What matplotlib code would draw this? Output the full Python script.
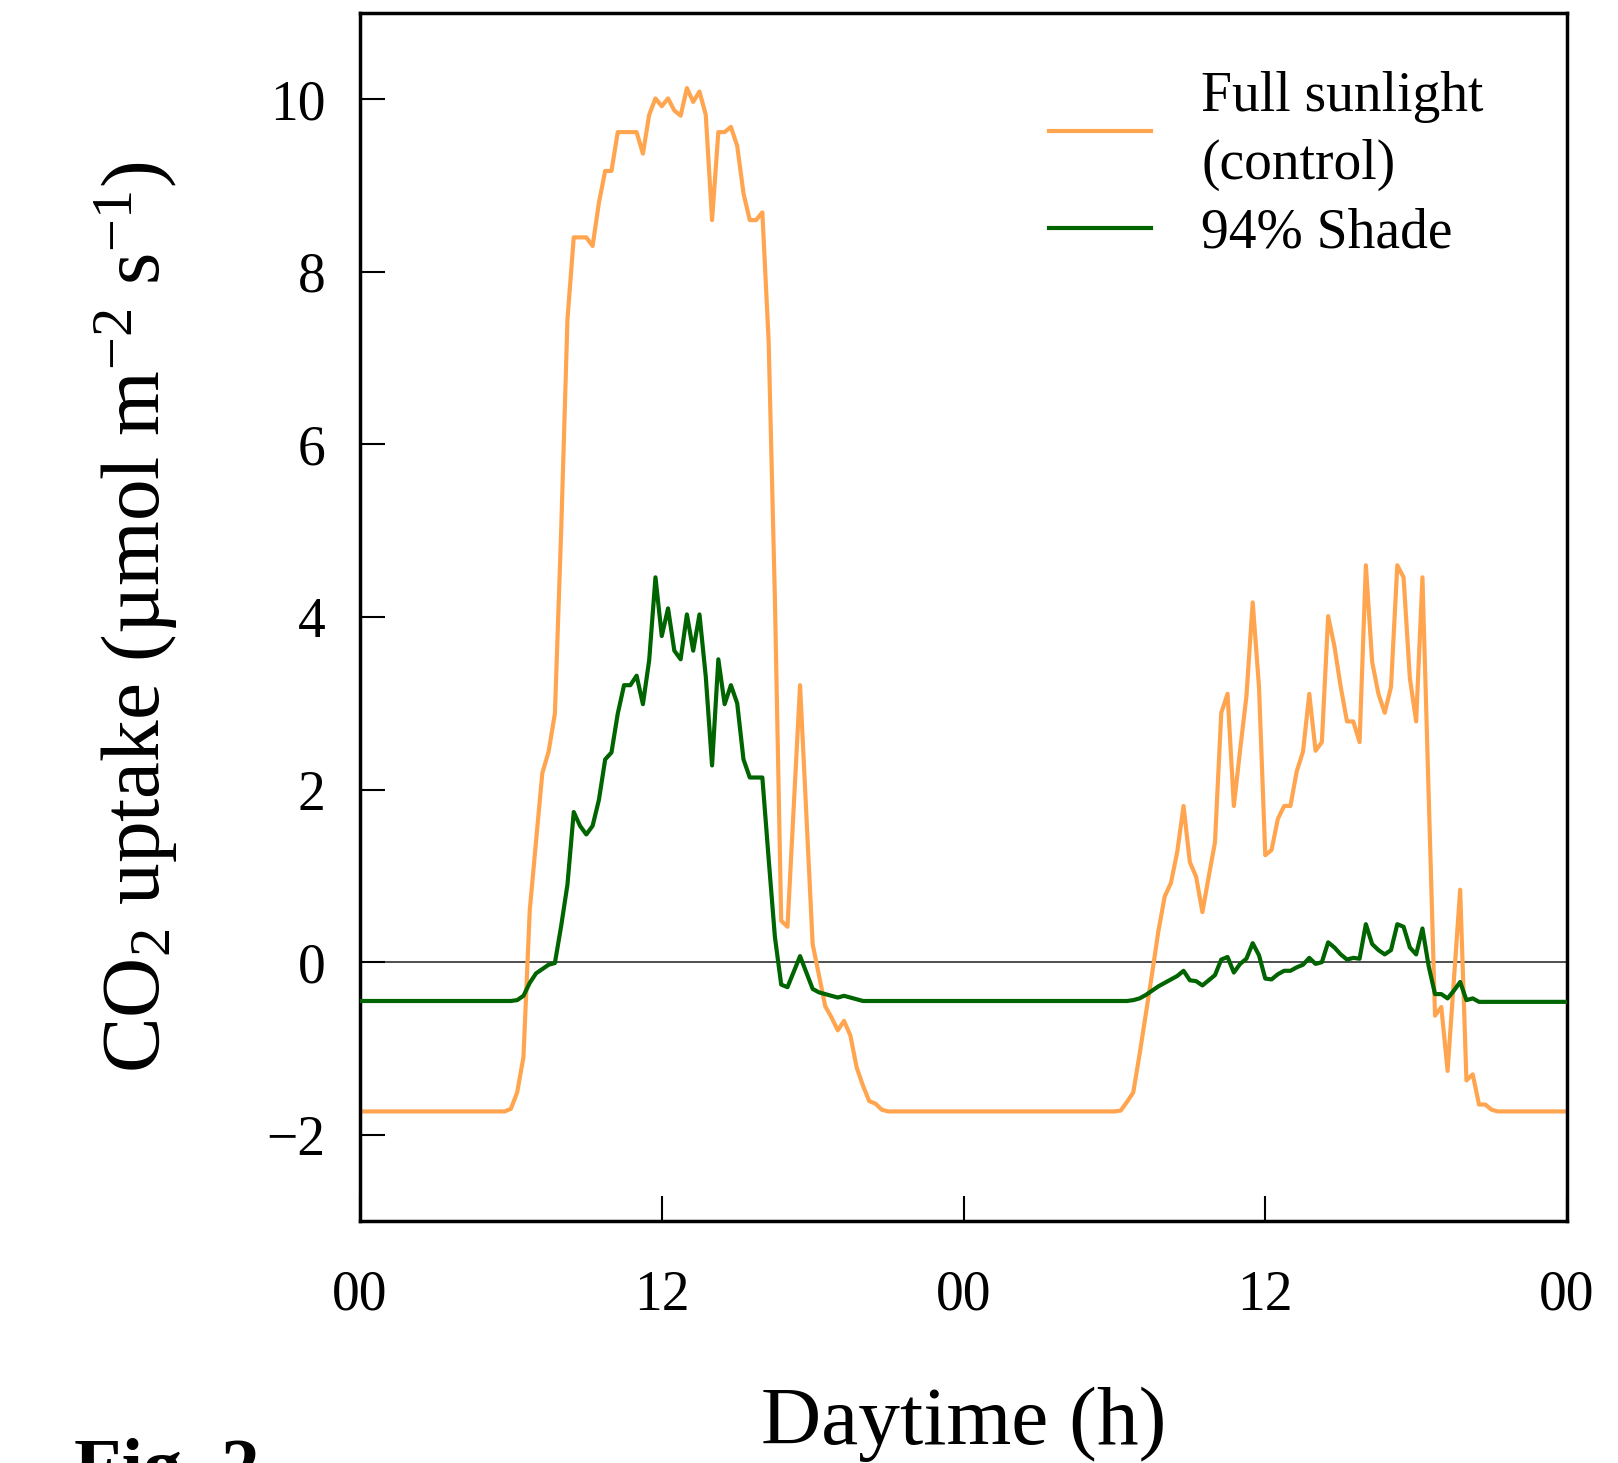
import numpy as np
import matplotlib
matplotlib.use('Agg')
import matplotlib.pyplot as plt

"""CO2 uptake over two days, full sunlight vs 94% shade"""

# sample times (h), 15 min logging during the light periods
hours = [0.0, 5.75,
         6.0, 6.25, 6.5, 6.75, 7.0, 7.25, 7.5, 7.75, 8.0, 8.25,
         8.5, 8.75, 9.0, 9.25, 9.5, 9.75, 10.0, 10.25, 10.5, 10.75,
         11.0, 11.25, 11.5, 11.75, 12.0, 12.25, 12.5, 12.75, 13.0, 13.25,
         13.5, 13.75, 14.0, 14.25, 14.5, 14.75, 15.0, 15.25, 15.5, 15.75,
         16.0, 16.25, 16.5, 16.75, 17.0, 17.25, 17.5, 17.75, 18.0, 18.25,
         18.5, 18.75, 19.0, 19.25, 19.5, 19.75, 20.0, 20.25, 20.5, 20.75,
         21.0,
         30.0, 30.25, 30.5, 30.75, 31.0, 31.25, 31.5, 31.75, 32.0, 32.25,
         32.5, 32.75, 33.0, 33.25, 33.5, 33.75, 34.0, 34.25, 34.5, 34.75,
         35.0, 35.25, 35.5, 35.75, 36.0, 36.25, 36.5, 36.75, 37.0, 37.25,
         37.5, 37.75, 38.0, 38.25, 38.5, 38.75, 39.0, 39.25, 39.5, 39.75,
         40.0, 40.25, 40.5, 40.75, 41.0, 41.25, 41.5, 41.75, 42.0, 42.25,
         42.5, 42.75, 43.0, 43.25, 43.5, 43.75, 44.0, 44.25, 44.5, 44.75,
         45.0, 45.25,
         48.0]

full_sun = [-1.73, -1.73,
            -1.70, -1.51, -1.10, 0.60, 1.40, 2.19, 2.44, 2.88, 5.00, 7.45,
            8.40, 8.40, 8.40, 8.30, 8.80, 9.17, 9.17, 9.62, 9.62, 9.62,
            9.62, 9.37, 9.82, 10.01, 9.92, 10.01, 9.87, 9.81, 10.13, 9.97,
            10.09, 9.82, 8.60, 9.62, 9.62, 9.68, 9.46, 8.91, 8.60, 8.60,
            8.69, 7.20, 4.20, 0.48, 0.41, 1.81, 3.21, 1.71, 0.21, -0.15,
            -0.51, -0.64, -0.79, -0.68, -0.85, -1.22, -1.43, -1.61, -1.64, -1.71,
            -1.73,
            -1.73, -1.72, -1.62, -1.51, -1.07, -0.60, -0.13, 0.36, 0.76, 0.92,
            1.28, 1.81, 1.16, 0.99, 0.58, 0.99, 1.39, 2.89, 3.11, 1.81,
            2.46, 3.08, 4.17, 3.19, 1.24, 1.30, 1.66, 1.81, 1.81, 2.21,
            2.44, 3.11, 2.45, 2.55, 4.01, 3.66, 3.19, 2.79, 2.79, 2.55,
            4.60, 3.48, 3.11, 2.89, 3.19, 4.60, 4.46, 3.29, 2.79, 4.46,
            1.92, -0.62, -0.52, -1.26, -0.21, 0.84, -1.37, -1.30, -1.65, -1.65,
            -1.71, -1.73,
            -1.73]

shade = [-0.45, -0.45,
         -0.45, -0.44, -0.39, -0.24, -0.13, -0.08, -0.03, -0.01, 0.42, 0.90,
         1.74, 1.58, 1.48, 1.58, 1.88, 2.35, 2.43, 2.88, 3.21, 3.21,
         3.32, 2.99, 3.50, 4.46, 3.78, 4.10, 3.61, 3.51, 4.03, 3.61,
         4.03, 3.31, 2.28, 3.51, 2.99, 3.21, 3.00, 2.35, 2.14, 2.14,
         2.14, 1.20, 0.29, -0.26, -0.29, -0.11, 0.07, -0.12, -0.31, -0.35,
         -0.37, -0.39, -0.41, -0.39, -0.41, -0.43, -0.45, -0.45, -0.45, -0.45,
         -0.45,
         -0.45, -0.45, -0.45, -0.44, -0.42, -0.38, -0.33, -0.28, -0.24, -0.20,
         -0.16, -0.10, -0.21, -0.22, -0.27, -0.21, -0.15, 0.03, 0.06, -0.12,
         -0.02, 0.04, 0.22, 0.08, -0.19, -0.20, -0.14, -0.10, -0.10, -0.06,
         -0.03, 0.05, -0.02, 0.00, 0.23, 0.17, 0.09, 0.03, 0.05, 0.04,
         0.44, 0.21, 0.14, 0.09, 0.14, 0.44, 0.41, 0.17, 0.09, 0.39,
         -0.05, -0.37, -0.37, -0.42, -0.33, -0.23, -0.44, -0.42, -0.46, -0.46,
         -0.46, -0.46,
         -0.46]

xtick_pos = [0, 12, 24, 36, 48]
xtick_labels = ['00', '12', '00', '12', '00']
labels = ['Full sunlight\n(control)', '94% Shade']

plt.rcParams['font.family'] = 'Liberation Serif'
plt.rcParams['mathtext.fontset'] = 'custom'
plt.rcParams['mathtext.rm'] = 'Liberation Serif'
plt.rcParams['mathtext.it'] = 'Liberation Serif:italic'

fig = plt.figure(figsize=(16.18, 14.63), dpi=100)
ax = fig.add_axes([0.2225, 0.1654, 0.746, 0.8257])

ax.axhline(0, color='#404040', lw=1.3, zorder=1)
ax.plot(hours, full_sun, color='#FFA54F', lw=3, label=labels[0], zorder=2)
ax.plot(hours, shade, color='#006400', lw=3, label=labels[1], zorder=3)

ax.set_xlim(0, 48)
ax.set_ylim(-3, 11)
ax.set_xticks(xtick_pos)
ax.set_xticklabels(xtick_labels)
ax.set_yticks(range(-2, 11, 2))
ax.tick_params(direction='in', length=18, width=1.5, labelsize=40)
ax.tick_params(axis='x', pad=35)
ax.tick_params(axis='y', pad=25)
for s in ax.spines.values():
    s.set_linewidth(2.5)

ax.set_ylabel('CO$_2$ uptake (\u00b5mol m$^{-2}$ s$^{-1}$)', fontsize=60)
ax.yaxis.set_label_coords(-0.149, 0.5)
ax.set_xlabel('Daytime (h)', fontsize=60)
ax.xaxis.set_label_coords(0.5, -0.137)

leg = ax.legend(loc='upper left', bbox_to_anchor=(1049 / 1618, 1 - 71 / 1463),
                bbox_transform=fig.transFigure, frameon=False, fontsize=40,
                handlelength=1.84, handletextpad=0.9, borderpad=0,
                borderaxespad=0, labelspacing=0.3)
for t in leg.get_texts():
    t.set_linespacing(1.39)

fig.text(74 / 1618, -0.0198, 'Fig. 2', fontsize=56, fontweight='bold',
         ha='left', va='baseline')

plt.savefig('out.png', dpi=100)
